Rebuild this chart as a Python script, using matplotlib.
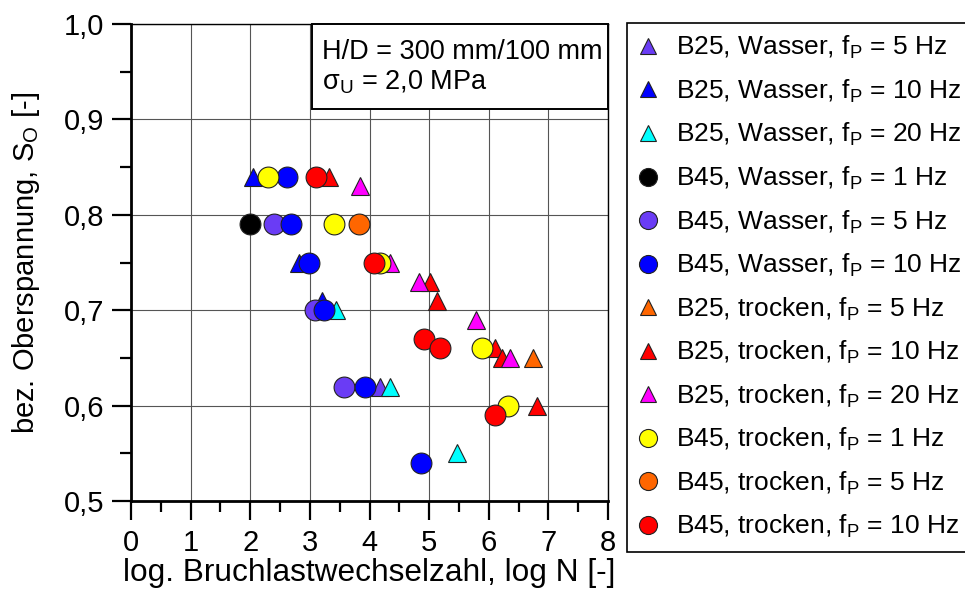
import matplotlib.pyplot as plt
from matplotlib.lines import Line2D
from matplotlib.patches import Rectangle
from matplotlib.ticker import MultipleLocator, FuncFormatter

plt.rcParams['font.family'] = ['Liberation Sans', 'DejaVu Sans']
plt.rcParams['mathtext.fontset'] = 'custom'
plt.rcParams['mathtext.rm'] = 'Liberation Sans'
plt.rcParams['mathtext.default'] = 'regular'

# Reihen: log N und bez. Oberspannung S_O
labels = [
    "B25, Wasser, f$_P$ = 5 Hz",
    "B25, Wasser, f$_P$ = 10 Hz",
    "B25, Wasser, f$_P$ = 20 Hz",
    "B45, Wasser, f$_P$ = 1 Hz",
    "B45, Wasser, f$_P$ = 5 Hz",
    "B45, Wasser, f$_P$ = 10 Hz",
    "B25, trocken, f$_P$ = 5 Hz",
    "B25, trocken, f$_P$ = 10 Hz",
    "B25, trocken, f$_P$ = 20 Hz",
    "B45, trocken, f$_P$ = 1 Hz",
    "B45, trocken, f$_P$ = 5 Hz",
    "B45, trocken, f$_P$ = 10 Hz",
]
colors = ["#6a3cf5", "#0000ff", "#00ffff", "#000000", "#6a3cf5", "#0000ff",
          "#ff6600", "#ff0000", "#ff00ff", "#ffff00", "#ff6600", "#ff0000"]
markers = ["^", "^", "^", "o", "o", "o", "^", "^", "^", "o", "o", "o"]

logN = [
    [4.17],
    [2.05, 2.82, 3.21],
    [3.43, 4.34, 5.46],
    [2.00],
    [2.39, 3.08, 3.57],
    [2.61, 2.69, 2.99, 3.24, 3.92, 4.87],
    [6.75],
    [3.32, 5.01, 5.13, 6.11, 6.22, 6.81],
    [3.84, 4.35, 4.83, 5.79, 6.36],
    [2.30, 3.40, 4.18, 5.88, 6.33],
    [3.82],
    [3.11, 4.07, 4.91, 5.19, 6.10],
]
S_O = [
    [0.62],
    [0.84, 0.75, 0.71],
    [0.70, 0.62, 0.55],
    [0.79],
    [0.79, 0.70, 0.62],
    [0.84, 0.79, 0.75, 0.70, 0.62, 0.54],
    [0.65],
    [0.84, 0.73, 0.71, 0.66, 0.65, 0.60],
    [0.83, 0.75, 0.73, 0.69, 0.65],
    [0.84, 0.79, 0.75, 0.66, 0.60],
    [0.79],
    [0.84, 0.75, 0.67, 0.66, 0.59],
]

fig = plt.figure(figsize=(9.65, 6.02), dpi=100)
ax = fig.add_axes([131 / 965, 1 - 501 / 602, 477 / 965, 477 / 602])

for i in range(len(labels)):
    ms = 15 if markers[i] == "o" else 13
    ax.plot(logN[i], S_O[i], linestyle="none", marker=markers[i], ms=ms,
            markerfacecolor=colors[i], markeredgecolor="#222222",
            markeredgewidth=0.8, zorder=3 + i)

ax.set_xlim(0, 8)
ax.set_ylim(0.5, 1.0)
ax.xaxis.set_major_locator(MultipleLocator(1))
ax.xaxis.set_minor_locator(MultipleLocator(0.5))
ax.yaxis.set_major_locator(MultipleLocator(0.1))
ax.yaxis.set_minor_locator(MultipleLocator(0.05))
ax.yaxis.set_major_formatter(FuncFormatter(lambda v, p: f"{v:.1f}".replace(".", ",")))
ax.grid(True, which="major", color="#555555", linewidth=0.8)
ax.set_axisbelow(True)

for s in ["left", "bottom"]:
    ax.spines[s].set_linewidth(2)
for s in ["top", "right"]:
    ax.spines[s].set_linewidth(1)
ax.tick_params(which="major", direction="out", length=14, width=1.6, labelsize=21, pad=5)
ax.tick_params(which="minor", direction="out", length=8, width=1.6)
ax.tick_params(axis="x", which="major", pad=6)

ax.set_xlabel("log. Bruchlastwechselzahl, log N [-]", fontsize=22.8, labelpad=1)
ax.set_ylabel("bez. Oberspannung, S$_O$ [-]", fontsize=21, labelpad=16)

# Infobox oben rechts im Diagramm
ax.add_patch(Rectangle((0.379, 0.822), 0.621, 0.178, transform=ax.transAxes,
                       facecolor="white", edgecolor="black", linewidth=1.4,
                       zorder=20, clip_on=False))
ax.text(0.40, 0.941, "H/D = 300 mm/100 mm", transform=ax.transAxes,
        fontsize=19.5, ha="left", va="center", zorder=21)
ax.text(0.40, 0.878, "σ$_U$ = 2,0 MPa", transform=ax.transAxes,
        fontsize=19.5, ha="left", va="center", zorder=21)

handles = [Line2D([], [], linestyle="none", marker=markers[i],
                  ms=13 if markers[i] == "o" else 11,
                  markerfacecolor=colors[i], markeredgecolor="#222222",
                  markeredgewidth=0.8) for i in range(len(labels))]
leg = fig.legend(handles, labels, loc="upper left",
                 bbox_to_anchor=(627 / 965, 1 - 23 / 602),
                 fontsize=19, frameon=True, fancybox=False,
                 edgecolor="black", framealpha=1, borderpad=0.42,
                 handlelength=0.72, handletextpad=0.72, labelspacing=0.62,
                 borderaxespad=0)
leg.get_frame().set_linewidth(1.2)

fig.savefig("out.png", dpi=100)
